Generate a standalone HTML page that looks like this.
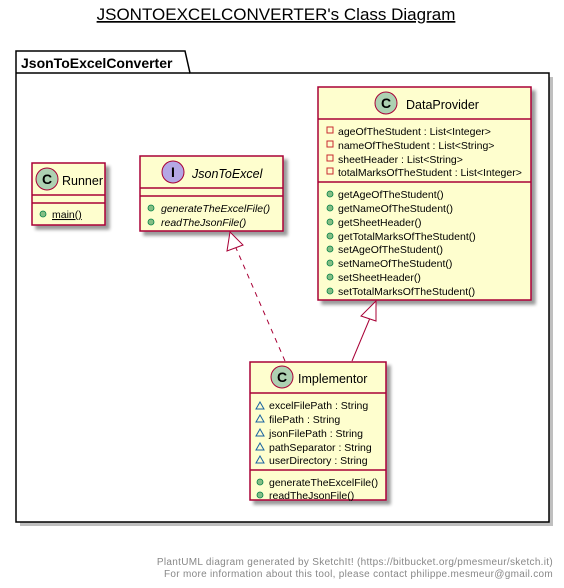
<!DOCTYPE html>
<html><head><meta charset="utf-8"><style>
html,body{margin:0;padding:0;background:#fff}
svg text{font-family:"Liberation Sans",sans-serif}
</style></head><body>
<svg width="564" height="583" viewBox="0 0 564 583" xmlns="http://www.w3.org/2000/svg">
<defs><filter id="s" x="-10%" y="-10%" width="130%" height="130%"><feGaussianBlur in="SourceAlpha" stdDeviation="1.5"/><feOffset dx="4" dy="4"/><feComponentTransfer><feFuncA type="linear" slope="0.4"/></feComponentTransfer><feMerge><feMergeNode/><feMergeNode in="SourceGraphic"/></feMerge></filter></defs>
<text x="276" y="20" font-size="17" text-anchor="middle" text-decoration="underline">JSONTOEXCELCONVERTER's Class Diagram</text>
<!-- package -->
<rect x="20" y="77" width="533" height="449" fill="#000" opacity="0.25"/>
<path d="M16,51 L185,51 L190,73 L549,73 L549,522 L16,522 Z" fill="#fff" stroke="#000" stroke-width="1.5"/>
<line x1="16" y1="73" x2="190" y2="73" stroke="#000" stroke-width="1.5"/>
<text x="21" y="68" font-size="14" font-weight="bold">JsonToExcelConverter</text>
<!-- Runner -->
<g filter="url(#s)">
<rect x="32" y="163" width="73" height="62" fill="#FEFECE" stroke="#A80036" stroke-width="1.5"/></g>
<line x1="32" y1="195" x2="105" y2="195" stroke="#A80036" stroke-width="1.5"/>
<line x1="32" y1="203" x2="105" y2="203" stroke="#A80036" stroke-width="1.5"/>
<circle cx="47" cy="179" r="11" fill="#ADD1B2" stroke="#A80036"/>
<text x="47" y="184" font-size="14" font-weight="bold" text-anchor="middle">C</text>
<text x="62" y="185" font-size="12.5">Runner</text>
<circle cx="43" cy="214" r="3" fill="#84BE84" stroke="#038048" stroke-width="0.8"/>
<text x="52" y="218" font-size="10.5" text-decoration="underline">main()</text>
<!-- JsonToExcel -->
<g filter="url(#s)">
<rect x="140" y="156" width="143" height="75" fill="#FEFECE" stroke="#A80036" stroke-width="1.5"/></g>
<line x1="140" y1="188" x2="283" y2="188" stroke="#A80036" stroke-width="1.5"/>
<line x1="140" y1="196" x2="283" y2="196" stroke="#A80036" stroke-width="1.5"/>
<circle cx="173" cy="172" r="11" fill="#B4A7E5" stroke="#A80036"/>
<text x="173" y="177" font-size="14" font-weight="bold" text-anchor="middle">I</text>
<text x="192" y="178" font-size="12.5" font-style="italic">JsonToExcel</text>
<circle cx="151" cy="208" r="3" fill="#84BE84" stroke="#038048" stroke-width="0.8"/>
<text x="161" y="212" font-size="10.5" font-style="italic">generateTheExcelFile()</text>
<circle cx="151" cy="222" r="3" fill="#84BE84" stroke="#038048" stroke-width="0.8"/>
<text x="161" y="226" font-size="10.5" font-style="italic">readTheJsonFile()</text>
<!-- DataProvider -->
<g filter="url(#s)">
<rect x="318" y="87" width="213" height="213" fill="#FEFECE" stroke="#A80036" stroke-width="1.5"/></g>
<line x1="318" y1="119" x2="531" y2="119" stroke="#A80036" stroke-width="1.5"/>
<line x1="318" y1="182" x2="531" y2="182" stroke="#A80036" stroke-width="1.5"/>
<circle cx="386" cy="103" r="11" fill="#ADD1B2" stroke="#A80036"/>
<text x="386" y="108" font-size="14" font-weight="bold" text-anchor="middle">C</text>
<text x="406" y="109" font-size="12.5">DataProvider</text>
<g font-size="10.5">
<rect x="327" y="127" width="6" height="6" fill="none" stroke="#C82930"/>
<text x="338" y="135">ageOfTheStudent : List&lt;Integer&gt;</text>
<rect x="327" y="141" width="6" height="6" fill="none" stroke="#C82930"/>
<text x="338" y="149">nameOfTheStudent : List&lt;String&gt;</text>
<rect x="327" y="155" width="6" height="6" fill="none" stroke="#C82930"/>
<text x="338" y="163">sheetHeader : List&lt;String&gt;</text>
<rect x="327" y="168" width="6" height="6" fill="none" stroke="#C82930"/>
<text x="338" y="176">totalMarksOfTheStudent : List&lt;Integer&gt;</text>
<g fill="#84BE84" stroke="#038048" stroke-width="0.8">
<circle cx="330" cy="194" r="3"/><circle cx="330" cy="208" r="3"/><circle cx="330" cy="222" r="3"/><circle cx="330" cy="236" r="3"/>
<circle cx="330" cy="249" r="3"/><circle cx="330" cy="263" r="3"/><circle cx="330" cy="277" r="3"/><circle cx="330" cy="291" r="3"/></g>
<text x="338" y="198">getAgeOfTheStudent()</text>
<text x="338" y="212">getNameOfTheStudent()</text>
<text x="338" y="226">getSheetHeader()</text>
<text x="338" y="240">getTotalMarksOfTheStudent()</text>
<text x="338" y="253">setAgeOfTheStudent()</text>
<text x="338" y="267">setNameOfTheStudent()</text>
<text x="338" y="281">setSheetHeader()</text>
<text x="338" y="295">setTotalMarksOfTheStudent()</text>
</g>
<!-- Implementor -->
<g filter="url(#s)">
<rect x="250" y="362" width="136" height="138" fill="#FEFECE" stroke="#A80036" stroke-width="1.5"/></g>
<line x1="250" y1="393" x2="386" y2="393" stroke="#A80036" stroke-width="1.5"/>
<line x1="250" y1="470" x2="386" y2="470" stroke="#A80036" stroke-width="1.5"/>
<circle cx="282" cy="377" r="11" fill="#ADD1B2" stroke="#A80036"/>
<text x="282" y="382" font-size="14" font-weight="bold" text-anchor="middle">C</text>
<text x="298" y="383" font-size="12.5">Implementor</text>
<g font-size="10.5">
<g fill="none" stroke="#1963A0" stroke-width="1">
<path d="M256,409 L260,402 L264,409 Z"/><path d="M256,422 L260,415 L264,422 Z"/><path d="M256,436 L260,429 L264,436 Z"/><path d="M256,450 L260,443 L264,450 Z"/><path d="M256,463 L260,456 L264,463 Z"/></g>
<text x="269" y="409">excelFilePath : String</text>
<text x="269" y="423">filePath : String</text>
<text x="269" y="437">jsonFilePath : String</text>
<text x="269" y="451">pathSeparator : String</text>
<text x="269" y="464">userDirectory : String</text>
<circle cx="260" cy="482" r="3" fill="#84BE84" stroke="#038048" stroke-width="0.8"/>
<circle cx="260" cy="495" r="3" fill="#84BE84" stroke="#038048" stroke-width="0.8"/>
<text x="269" y="486">generateTheExcelFile()</text>
<text x="269" y="499">readTheJsonFile()</text>
</g>
<!-- arrows -->
<line x1="285" y1="361" x2="236" y2="248" stroke="#A80036" stroke-dasharray="5,5"/>
<path d="M230,232 L227,251 L243,245 Z" fill="#fff" stroke="#A80036"/>
<line x1="352" y1="361" x2="370" y2="318" stroke="#A80036"/>
<path d="M376,301 L361,316 L376,321 Z" fill="#fff" stroke="#A80036"/>
<text x="553" y="565" font-size="10" fill="#888" text-anchor="end" letter-spacing="0.3">PlantUML diagram generated by SketchIt! (https://bitbucket.org/pmesmeur/sketch.it)</text>
<text x="553" y="577" font-size="10" fill="#888" text-anchor="end" letter-spacing="0.3">For more information about this tool, please contact philippe.mesmeur@gmail.com</text>
</svg>
</body></html>
